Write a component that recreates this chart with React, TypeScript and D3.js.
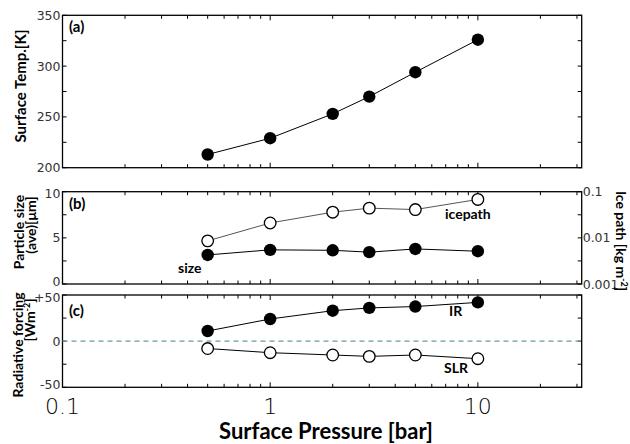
import * as d3 from "d3";

const pressure = [0.5, 1, 2, 3, 5, 10];
const surfaceTemp = [213, 229, 253, 270, 294, 326];
const particleSize = [3.15, 3.7, 3.65, 3.45, 3.8, 3.55];
const icePath = [0.0086, 0.021, 0.036, 0.044, 0.041, 0.068];
const forcingIR = [11, 24, 33, 36, 37.5, 42];
const forcingSLR = [-8, -12.5, -15, -16.5, -15, -19];

const xTickLabels = ["0.1", "1", "10"];
const tempTicks = [200, 250, 300, 350];
const sizeTicks = [0, 5, 10];
const icePathTicks = [0.001, 0.01, 0.1];
const forcingTicks = [-50, 0, 50];

const W = 630;
const H = 444;
const left = 62.5;
const right = 581.7;

const tickFont = "'DejaVu Sans', sans-serif";
const boldFont = "Lato, 'Open Sans', sans-serif";

const x = d3.scaleLog().domain([0.1, Math.pow(10, 1.5)]).range([left, right]);
const xMinor = d3.range(-1, 2).flatMap((e) =>
  d3.range(1, 10).map((m) => m * Math.pow(10, e))
).filter((v) => v >= 0.1 && v <= Math.pow(10, 1.5));

type Panel = { top: number; bottom: number };
const pa: Panel = { top: 15.3, bottom: 167.7 };
const pb: Panel = { top: 191.7, bottom: 284 };
const pc: Panel = { top: 295, bottom: 387.3 };

const yA = d3.scaleLinear().domain([200, 350]).range([pa.bottom, pa.top]);
const yB = d3.scaleLinear().domain([0, 10]).range([pb.bottom, pb.top]);
const yBr = d3.scaleLog().domain([0.001, 0.1]).range([pb.bottom, pb.top]);
const yC = d3.scaleLinear().domain([-50, 50]).range([pc.bottom, pc.top]);

function Frame({ p, yTicks }: { p: Panel; yTicks: number[] }) {
  return (
    <g>
      <rect x={left} y={p.top} width={right - left} height={p.bottom - p.top} fill="none" stroke="#000" strokeWidth={1.3} />
      {xMinor.map((v, i) => {
        const major = Math.abs(Math.log10(v) - Math.round(Math.log10(v))) < 1e-9;
        const len = major ? 5 : 3.5;
        return (
          <g key={i} stroke="#000" strokeWidth={1}>
            <line x1={x(v)} x2={x(v)} y1={p.top} y2={p.top + len} />
            <line x1={x(v)} x2={x(v)} y1={p.bottom} y2={p.bottom - len} />
          </g>
        );
      })}
      {yTicks.map((yy, i) => (
        <g key={"y" + i} stroke="#000" strokeWidth={1}>
          <line x1={left} x2={left + 4} y1={yy} y2={yy} />
          <line x1={right} x2={right - 4} y1={yy} y2={yy} />
        </g>
      ))}
    </g>
  );
}

function Series({
  xs, ys, filled, color = "#000", sw = 1,
}: { xs: number[]; ys: number[]; filled: boolean; color?: string; sw?: number }) {
  const pts: [number, number][] = xs.map((v, i) => [x(v), ys[i]]);
  const line = d3.line();
  return (
    <g>
      <path d={line(pts) || ""} fill="none" stroke={color} strokeWidth={sw} />
      {pts.map((p, i) => (
        <circle key={i} cx={p[0]} cy={p[1]} r={filled ? 6.2 : 5.8}
          fill={filled ? "#000" : "#fff"} stroke="#000" strokeWidth={filled ? 0 : 1.3} />
      ))}
    </g>
  );
}

// keep labels at the panel edges from running into each other
const labelY = (y: number, p: Panel) =>
  y + 4.5 + (Math.abs(y - p.bottom) < 1 ? -3 : 0) + (Math.abs(y - p.top) < 1 ? 2 : 0);

export default function App() {
  const aTicks = d3.range(200, 351, 25).map((v) => yA(v));
  const bTicks = d3.range(0, 10.1, 2.5).map((v) => yB(v));
  const cTicks = d3.range(-50, 51, 25).map((v) => yC(v));

  return (
    <svg width={W} height={H} style={{ position: "absolute", left: 0, top: 0, background: "#fff" }}>
      <Frame p={pa} yTicks={aTicks} />
      <Frame p={pb} yTicks={bTicks} />
      <Frame p={pc} yTicks={cTicks} />

      {/* zero line in (c) */}
      <line x1={left} x2={right} y1={yC(0)} y2={yC(0)} stroke="#6d9aa6" strokeWidth={1.1} strokeDasharray="5,4" />

      <Series xs={pressure} ys={surfaceTemp.map((v) => yA(v))} filled />
      <Series xs={pressure} ys={icePath.map((v) => yBr(v))} filled={false} color="#555" sw={1} />
      <Series xs={pressure} ys={particleSize.map((v) => yB(v))} filled />
      <Series xs={pressure} ys={forcingIR.map((v) => yC(v))} filled />
      <Series xs={pressure} ys={forcingSLR.map((v) => yC(v))} filled={false} />

      {/* y tick labels */}
      <g fontFamily={tickFont} fontSize={12.5} fill="#333" textAnchor="end">
        {tempTicks.map((v) => (
          <text key={"a" + v} x={left - 2} y={yA(v) + 4.5}>{v}</text>
        ))}
        {sizeTicks.map((v) => (
          <text key={"b" + v} x={left - 2} y={labelY(yB(v), pb)}>{v}</text>
        ))}
        {forcingTicks.map((v) => (
          <text key={"c" + v} x={left - 2} y={labelY(yC(v), pc)}>{v > 0 ? "+" + v : v}</text>
        ))}
      </g>
      <g fontFamily={tickFont} fontSize={12.5} fill="#333" textAnchor="start">
        {icePathTicks.map((v) => (
          <text key={"r" + v} x={right + 1} y={yBr(v) + 4.5}>{String(v)}</text>
        ))}
      </g>

      {/* x tick labels */}
      <g fontFamily={tickFont} fontWeight={200} fontSize={22} fill="#000" textAnchor="middle">
        {xTickLabels.map((t) => (
          <text key={t} x={x(+t)} y={414}>{t}</text>
        ))}
      </g>

      <g fontFamily={boldFont} fontWeight={700} fill="#000">
        <text x={69} y={32} fontSize={15}>(a)</text>
        <text x={69} y={209} fontSize={15}>(b)</text>
        <text x={69} y={316} fontSize={15}>(c)</text>

        <text x={178} y={273} fontSize={14}>size</text>
        <text x={445} y={219} fontSize={14}>icepath</text>
        <text x={449} y={316} fontSize={14}>IR</text>
        <text x={444} y={373} fontSize={14}>SLR</text>

        <text fontSize={22} textAnchor="middle" x={326} y={439}>Surface Pressure [bar]</text>

        <text fontSize={15} textAnchor="middle" transform="translate(26,86) rotate(-90)">Surface Temp.[K]</text>
        <text fontSize={14} textAnchor="middle" transform="translate(24,232) rotate(-90)">Particle size</text>
        <text fontSize={14} textAnchor="middle" transform="translate(36,225) rotate(-90)">(ave)[μm]</text>
        <text fontSize={14} textAnchor="middle" transform="translate(23,345) rotate(-90)">Radiative forcing</text>
        <text fontSize={14} textAnchor="middle" transform="translate(35,320) rotate(-90)">
          [Wm<tspan fontSize={9} dy={-5}>-2</tspan><tspan dy={5}>]</tspan>
        </text>
        <text fontSize={14} textAnchor="middle" transform="translate(616,241) rotate(90)">
          Ice path [kg m<tspan fontSize={9} dy={-5}>-2</tspan><tspan dy={5}>]</tspan>
        </text>
      </g>
    </svg>
  );
}
